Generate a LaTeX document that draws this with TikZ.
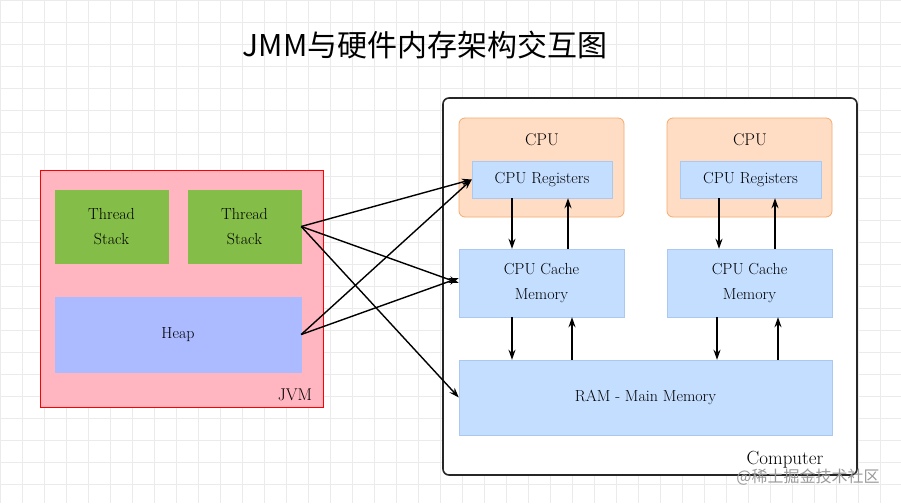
\documentclass[tikz,border=0pt]{standalone}
\usepackage{fontspec}
\newfontfamily\cjk{Noto Sans CJK SC}
\usetikzlibrary{arrows.meta}
\definecolor{jvmfill}{RGB}{255,182,193}
\definecolor{stackfill}{RGB}{132,190,72}
\definecolor{heapfill}{RGB}{172,186,255}
\definecolor{cpufill}{RGB}{254,221,196}
\definecolor{cpuline}{RGB}{245,170,110}
\definecolor{memfill}{RGB}{196,222,255}
\definecolor{memline}{RGB}{170,200,240}
\tikzset{
  box/.style={draw=#1,minimum width=0pt,inner sep=0pt,align=center,font=\fontsize{16}{25}\selectfont},
  lbl/.style={font=\fontsize{17}{20}\selectfont},
  link/.style={-{Stealth[length=10pt,width=7pt]},line width=1.4pt}
}
\begin{document}
\begin{tikzpicture}[x=1pt,y=-1pt]
\useasboundingbox (0,0) rectangle (901,503);
\foreach \g in {0,22,...,900} \draw[black!8] (\g,0) -- (\g,503);
\foreach \g in {0,22,...,503} \draw[black!8] (0,\g) -- (901,\g);
\node (title) at (425,45) {\cjk\fontsize{30}{34}\selectfont JMM与硬件内存架构交互图};
% JVM side
\node (jvm) [box=red,fill=jvmfill,thick,minimum width=283pt,minimum height=237pt] at (181.5,288.5) {};
\node (jvmlabel) [lbl] at (295,395) {JVM};
\node (stack1) [box=stackfill,fill=stackfill,minimum width=113pt,minimum height=73pt] at (111.5,226.5) {Thread\\Stack};
\node (stack2) [box=stackfill,fill=stackfill,minimum width=113pt,minimum height=73pt] at (244.5,226.5) {Thread\\Stack};
\node (heap) [box=heapfill,fill=heapfill,minimum width=246pt,minimum height=75pt] at (178,334.5) {Heap};
% Computer side
\node (computer) [draw=black!85,line width=1.6pt,rounded corners=6pt,fill=white,minimum width=414pt,minimum height=377pt] at (650,286.5) {};
\node (complabel) [font=\fontsize{19}{22}\selectfont] at (785,460) {Computer};
\node (cpu1) [box=cpuline,fill=cpufill,thick,rounded corners=6pt,minimum width=165pt,minimum height=99pt] at (541.5,167.5) {};
\node (cpu2) [box=cpuline,fill=cpufill,thick,rounded corners=6pt,minimum width=165pt,minimum height=99pt] at (749.5,167.5) {};
\node (cpu1label) [lbl] at (542,140) {CPU};
\node (cpu2label) [lbl] at (750,140) {CPU};
\node (reg1) [box=memline,fill=memfill,minimum width=140pt,minimum height=37pt] at (542,179.5) {CPU Registers};
\node (reg2) [box=memline,fill=memfill,minimum width=141pt,minimum height=37pt] at (750.5,179.5) {CPU Registers};
\node (cache1) [box=memline,fill=memfill,minimum width=165pt,minimum height=68pt] at (541.5,283) {CPU Cache\\Memory};
\node (cache2) [box=memline,fill=memfill,minimum width=165pt,minimum height=68pt] at (749.5,283) {CPU Cache\\Memory};
\node (ram) [box=memline,fill=memfill,minimum width=373pt,minimum height=75pt] at (645.5,397.5) {RAM - Main Memory};
\node (mark) [text=black!40,font=\fontsize{16}{18}\selectfont] at (808,477) {\cjk @稀土掘金技术社区};
% vertical links
\draw[link] (reg1.south -| 512,0) -- (cache1.north -| 512,0);
\draw[link] (cache1.north -| 568,0) -- (reg1.south -| 568,0);
\draw[link] (reg2.south -| 719,0) -- (cache2.north -| 719,0);
\draw[link] (cache2.north -| 775,0) -- (reg2.south -| 775,0);
\draw[link] (cache1.south -| 512,0) -- (ram.north -| 512,0);
\draw[link] (ram.north -| 572,0) -- (cache1.south -| 572,0);
\draw[link] (cache2.south -| 717,0) -- (ram.north -| 717,0);
\draw[link] (ram.north -| 778,0) -- (cache2.south -| 778,0);
% JVM to hardware
\draw[link] (stack2.east) -- (reg1.west);
\draw[link] (stack2.east) -- (cache1.west);
\draw[link] (stack2.east) -- (ram.west);
\draw[link] (heap.east) -- (reg1.west);
\draw[link] (heap.east) -- ([yshift=5pt]cache1.west);
\end{tikzpicture}
\end{document}
